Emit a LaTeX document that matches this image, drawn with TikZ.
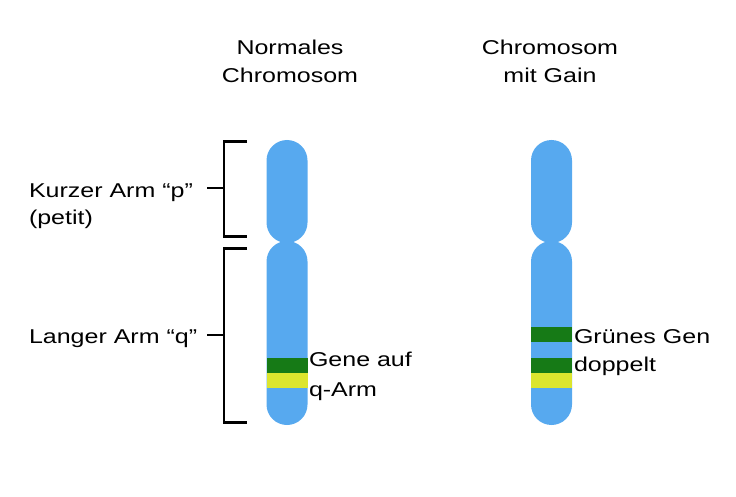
\documentclass[tikz,border=0pt]{standalone}
\usepackage{fontspec}
\setmainfont{Liberation Sans}[FakeStretch=1.25]
\definecolor{chromblue}{HTML}{57A9EF}
\definecolor{genegreen}{HTML}{167A16}
\definecolor{geneyellow}{HTML}{DCE52E}
\tikzset{
  arm/.style={rectangle, rounded corners=20.5pt, fill=chromblue, minimum width=41pt, inner sep=0pt, outer sep=0pt},
  band/.style={rectangle, minimum width=41pt, minimum height=15pt, inner sep=0pt, outer sep=0pt},
  lbl/.style={inner sep=0pt, outer sep=0pt, font=\fontsize{20}{28}\selectfont},
  brace/.style={line width=2.6pt, line cap=butt, line join=miter, black},
}
\begin{document}
\begin{tikzpicture}[x=1pt, y=-1pt]
\useasboundingbox (0,0) rectangle (736,497);
% titles (base anchor = baseline of last line)
\node[lbl, align=center, anchor=base] (t1) at (290,83) {Normales\\Chromosom};
\node[lbl, align=center, anchor=base] (t2) at (550,83) {Chromosom\\mit Gain};
% normal chromosome
\node[arm, minimum height=103pt] (p1) at (287,191.5) {};
\node[arm, minimum height=184pt] (q1) at (287,333) {};
\node[band, fill=genegreen] (g1) at (287,365.2) {};
\node[band, fill=geneyellow] (y1) at (287,380.2) {};
% gain chromosome
\node[arm, minimum height=103pt] (p2) at (551.5,191.5) {};
\node[arm, minimum height=184pt] (q2) at (551.5,333) {};
\node[band, fill=genegreen] (g2a) at (551.5,334.8) {};
\node[band, fill=genegreen] (g2b) at (551.5,365.2) {};
\node[band, fill=geneyellow] (y2) at (551.5,380.2) {};
% brackets
\coordinate (pt) at (247,141.3);
\coordinate (pb) at (247,236.3);
\coordinate (pm) at (224,188);
\coordinate (qt) at (247,248.3);
\coordinate (qb) at (247,422.7);
\coordinate (qm) at (224,335);
\draw[brace] (pt) -| (224,236.3) -- (pb);
\draw[brace] (qt) -| (224,422.7) -- (qb);
\coordinate (pl) at (207,188);
\coordinate (ql) at (207,335);
\draw[brace] (pl) -- (pm);
\draw[brace] (ql) -- (qm);
% labels
\node[lbl, align=left, anchor=base west] (lp) at (29,225) {Kurzer Arm “p”\\(petit)};
\node[lbl, align=left, anchor=base west] (lq) at (29,343) {Langer Arm “q”};
\node[lbl, align=left, anchor=base west, font=\fontsize{20}{30}\selectfont] (lg) at (309,396.7) {Gene auf\\q-Arm};
\node[lbl, align=left, anchor=base west] (lgg) at (574,371.7) {Grünes Gen\\doppelt};
\end{tikzpicture}
\end{document}
